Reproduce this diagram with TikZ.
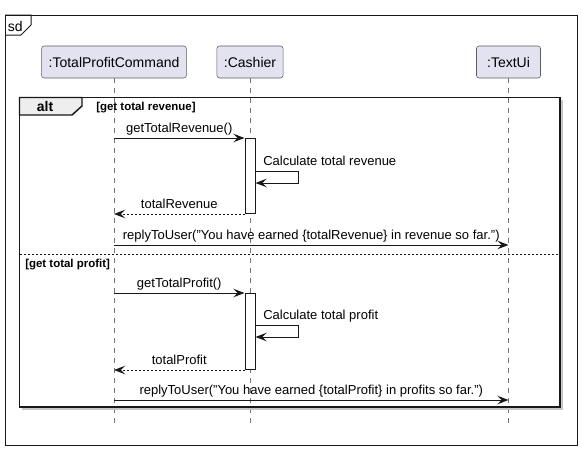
\documentclass[tikz,border=0pt]{standalone}
\usepackage{fontspec}
\setmainfont{Liberation Sans}
\usetikzlibrary{arrows.meta,positioning}
\definecolor{partfill}{HTML}{E2E2F0}
\definecolor{tabfill}{HTML}{EEEEEE}
\definecolor{lineblk}{HTML}{181818}
\newcommand{\msgfont}{\fontsize{9.75}{11}\selectfont}
\newcommand{\partfont}{\fontsize{10.5}{12}\selectfont}
\newcommand{\guardfont}{\fontsize{8.6}{10}\selectfont\bfseries}

\tikzset{
  participant/.style={draw=lineblk!70, line width=0.4pt, fill=partfill, rounded corners=1.9pt, inner xsep=5.25pt, minimum height=24pt, font=\partfont},
  lifeline/.style={draw=lineblk!60, line width=0.4pt, dash pattern=on 3.75pt off 3.75pt},
  actbox/.style={draw=lineblk, fill=white, line width=0.75pt, minimum width=7.5pt, inner sep=0pt, anchor=north},
  msg/.style={draw=lineblk, line width=0.75pt, -{Stealth[length=8.5pt,width=6.5pt,inset=3.4pt]}},
  ret/.style={msg, dash pattern=on 1.5pt off 1.5pt},
  msglbl/.style={midway, anchor=base, inner sep=0pt, yshift=4pt, font=\msgfont},
  selflbl/.style={anchor=base west, inner sep=0pt, font=\msgfont},
  guard/.style={anchor=base west, inner sep=0pt, font=\guardfont},
  altframe/.style={draw=lineblk, line width=1.1pt},
}

\begin{document}
\begin{tikzpicture}[x=0.75pt,y=-0.75pt]
\useasboundingbox (0,0) rectangle (582,450);

% sd frame
\draw[lineblk, line width=0.75pt] (5,15) rectangle (577,445);
\draw[lineblk, line width=0.75pt] (5,15) -- (31,15) -- (31,25) -- (21,35) -- (5,35);
\node[anchor=base west, inner sep=0pt, font=\partfont] (sd) at (7.5,31) {sd};

% participants
\node[participant] (cmd) at (114,62) {:TotalProfitCommand};
\node[participant] (cash) at (250,62) {:Cashier};
\node[participant, minimum width=48pt] (ui) at (508.5,62) {:TextUi};
\coordinate (bot) at (0,425);
\foreach \p in {cmd,cash,ui}
  \draw[lifeline] (\p.south) -- (\p.south |- bot);

% alt frame
\draw[gray!45, line width=1.1pt] (562,99.5) -- (562,409) -- (21.5,409);
\draw[altframe] (19.5,97.5) rectangle (560,407);
\draw[altframe, fill=tabfill] (19.5,97.5) -- (82,97.5) -- (82,106) -- (72,115) -- (19.5,115) -- cycle;
\node[anchor=base, inner sep=0pt, font=\bfseries\fontsize{10.5}{12}\selectfont] (alt) at (45,111) {alt};
\node[guard] (g1) at (96,110) {[get total revenue]};
\draw[lineblk, line width=0.75pt, dash pattern=on 1.5pt off 1.5pt] (19.5,254) -- (560,254);
\node[guard] (g2) at (25,267) {[get total profit]};

% get total revenue
\node[actbox, minimum height=56.25pt] (a1) at (cash.center |- 0,138) {};
\draw[msg] (cmd |- a1.north) -- node[msglbl] {getTotalRevenue()} (a1.north west);
\draw[msg] (a1.east |- 0,171) -- ++(43,0) -- ++(0,12) -- ++(-43,0);
\node[selflbl] (c1) at (263,165) {Calculate total revenue};
\draw[ret] (a1.south west) -- node[msglbl] {totalRevenue} (cmd |- a1.south);
\coordinate (r1) at (0,245);
\draw[msg] (cmd |- r1) -- node[msglbl] {replyToUser("You have earned \{totalRevenue\} in revenue so far.")} (ui |- r1);

% get total profit
\node[actbox, minimum height=57pt] (a2) at (cash.center |- 0,293) {};
\draw[msg] (cmd |- a2.north) -- node[msglbl] {getTotalProfit()} (a2.north west);
\draw[msg] (a2.east |- 0,325) -- ++(43,0) -- ++(0,12) -- ++(-43,0);
\node[selflbl] (c2) at (263,319) {Calculate total profit};
\draw[ret] (a2.south west) -- node[msglbl] {totalProfit} (cmd |- a2.south);
\coordinate (r2) at (0,400);
\draw[msg] (cmd |- r2) -- node[msglbl] {replyToUser("You have earned \{totalProfit\} in profits so far.")} (ui |- r2);

\end{tikzpicture}
\end{document}
